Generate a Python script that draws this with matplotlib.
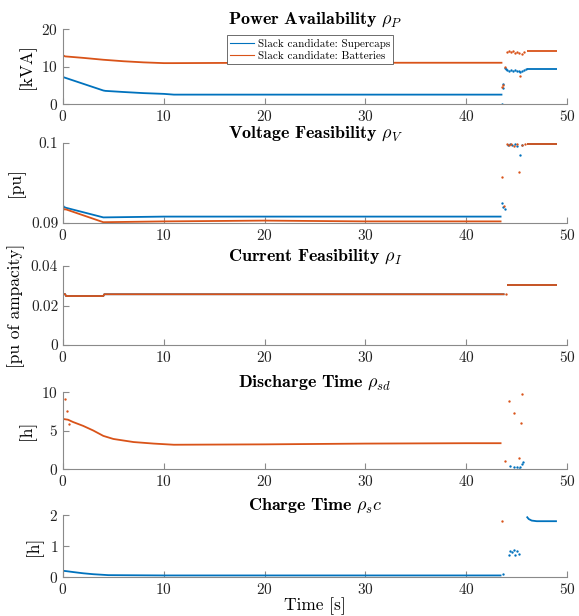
import numpy as np
import matplotlib
matplotlib.use("Agg")
import matplotlib.pyplot as plt

# MATLAB default line colours
C_SC = "#0072BD"   # supercaps
C_BAT = "#D95319"  # batteries

# ---------------- Power availability [kVA] ----------------
p_sc_t = [0, 0.1, 4.0, 4.2, 6, 8, 10, 11, 15, 20, 30, 40, 43.5]
p_sc = [7.2, 7.1, 3.6, 3.5, 3.2, 2.9, 2.7, 2.5, 2.5, 2.5, 2.5, 2.5, 2.5]
p_sc_tr_t = [43.6, 43.65, 43.7, 43.8, 43.9, 44.0, 44.2, 44.4, 44.6, 44.8, 45.0, 45.2, 45.3, 45.5, 45.7, 45.9]
p_sc_tr = [0.1, 4.2, 5.3, 9.7, 9.3, 9.0, 8.9, 9.1, 8.9, 9.0, 8.8, 8.9, 8.6, 8.8, 9.2, 9.4]
p_sc_end_t = [46.0, 49.0]
p_sc_end = [9.4, 9.4]

p_bat_t = [0, 0.2, 2, 4, 6, 8, 10, 11, 20, 30, 43.5]
p_bat = [13.0, 12.7, 12.3, 11.8, 11.4, 11.1, 10.9, 10.9, 11.0, 11.0, 11.0]
p_bat_tr_t = [43.6, 43.7, 43.85, 44.0, 44.2, 44.4, 44.6, 44.8, 45.0, 45.2, 45.3, 45.5, 45.7]
p_bat_tr = [4.5, 5.0, 10.0, 14.0, 14.2, 13.8, 14.1, 13.6, 14.0, 13.5, 7.6, 13.3, 13.8]
p_bat_end_t = [46.0, 49.0]
p_bat_end = [14.2, 14.2]

# ---------------- Voltage feasibility [pu] ----------------
v_sc_t = [0, 0.1, 0.3, 4.0, 10, 20, 30, 43.5]
v_sc = [0.0922, 0.0920, 0.0919, 0.0907, 0.0908, 0.0908, 0.0908, 0.0908]
v_sc_tr_t = [43.6, 43.7, 43.8, 44.1, 44.3, 44.5, 44.8, 45.0, 45.3, 45.5]
v_sc_tr = [0.0925, 0.0920, 0.0918, 0.0998, 0.0999, 0.0997, 0.0999, 0.0996, 0.0985, 0.0998]
v_bat_t = [0, 0.1, 0.3, 4.0, 10, 20, 30, 43.5]
v_bat = [0.0920, 0.0917, 0.0917, 0.0901, 0.0902, 0.0903, 0.0902, 0.0902]
v_bat_tr_t = [43.6, 43.75, 44.0, 44.2, 44.4, 44.7, 45.0, 45.2, 45.5, 45.8]
v_bat_tr = [0.0957, 0.0921, 0.0999, 0.0998, 0.0999, 0.0996, 0.0999, 0.0964, 0.0997, 0.0999]
v_end_t = [46.0, 49.0]
v_end = [0.0999, 0.0999]

# ---------------- Current feasibility [pu of ampacity] ----------------
i_t = [0, 0.2, 0.3, 4.0, 4.1, 43.8]
i_val = [0.0258, 0.0258, 0.0248, 0.0248, 0.0257, 0.0257]
i_tr_t = [43.9]
i_tr = [0.0260]
i_end_t = [44.0, 49.0]
i_end = [0.0302, 0.0302]

# ---------------- Discharge time [h] ----------------
d_bat_t = [0, 0.5, 1, 2, 3, 4, 5, 7, 9, 11, 20, 30, 40, 43.5]
d_bat = [6.5, 6.4, 6.1, 5.6, 5.0, 4.3, 3.9, 3.5, 3.3, 3.15, 3.2, 3.3, 3.35, 3.35]
d_bat_tr_t = [0.2, 0.35, 0.55, 43.8, 44.25, 44.75, 45.25, 45.45, 45.55]
d_bat_tr = [9.1, 7.5, 5.9, 1.0, 8.85, 7.3, 1.4, 6.0, 9.7]
d_sc_tr_t = [44.3, 44.7, 45.0, 45.2, 45.35, 45.5, 45.6]
d_sc_tr = [0.35, 0.2, 0.25, 0.05, 0.3, 0.6, 0.85]

# ---------------- Charge time [h] ----------------
c_sc_t = [0, 0.3, 1, 2, 3, 4.5, 10, 20, 43.5]
c_sc = [0.2, 0.19, 0.16, 0.12, 0.09, 0.06, 0.05, 0.05, 0.05]
c_sc_tr_t = [43.7, 44.2, 44.3, 44.5, 44.7, 44.8, 45.0, 45.2]
c_sc_tr = [0.1, 0.7, 0.85, 0.8, 0.88, 0.72, 0.85, 0.75]
c_bat_tr_t = [43.6]
c_bat_tr = [1.82]
c_sc_end_t = [46.0, 46.2, 46.5, 47.0, 49.0]
c_sc_end = [1.95, 1.87, 1.82, 1.80, 1.80]

# ---------------- style ----------------
plt.rcParams['font.family'] = 'serif'
plt.rcParams['font.serif'] = ['cmr10', 'DejaVu Serif']
plt.rcParams['mathtext.fontset'] = 'cm'
plt.rcParams['axes.formatter.use_mathtext'] = True
plt.rcParams['axes.unicode_minus'] = False

TICK_FS = 11
LAB_FS = 12.5
TITLE_FS = 13
AX_COL = '#8a8a8a'

fig = plt.figure(figsize=(5.79, 6.16), dpi=100)

L, W = 63/579, 504/579
def add_axes(top_px, bot_px):
    return fig.add_axes([L, 1 - bot_px/616, W, (bot_px - top_px)/616])

axs = [add_axes(29, 104), add_axes(143, 223), add_axes(266, 345),
       add_axes(392, 469), add_axes(515, 577)]

def style(ax, ylim, yticks, ylabel, title):
    ax.set_xlim(0, 50)
    ax.set_xticks(np.arange(0, 51, 10))
    ax.set_ylim(*ylim)
    ax.set_yticks(yticks)
    ax.set_ylabel(ylabel, fontsize=LAB_FS)
    ax.set_title(title, fontsize=TITLE_FS, pad=2)
    for s in ('top', 'right'):
        ax.spines[s].set_visible(False)
    for s in ('left', 'bottom'):
        ax.spines[s].set_color(AX_COL)
        ax.spines[s].set_linewidth(0.8)
    ax.tick_params(direction='in', length=4, width=0.8, color=AX_COL,
                   labelsize=TICK_FS, labelcolor='#222222')

LW = 1.3

def trace(ax, t, y, c):
    ax.plot(t, y, '-', color=c, lw=LW, solid_capstyle='butt')

def dots(ax, t, y, c):
    ax.plot(t, y, 'o', color=c, ms=1.7, mew=0, lw=0)

# Power availability
ax = axs[0]
h1, = ax.plot(p_sc_t, p_sc, '-', color=C_SC, lw=LW, label='Slack candidate: Supercaps')
h2, = ax.plot(p_bat_t, p_bat, '-', color=C_BAT, lw=LW, label='Slack candidate: Batteries')
dots(ax, p_sc_tr_t, p_sc_tr, C_SC)
trace(ax, p_sc_end_t, p_sc_end, C_SC)
dots(ax, p_bat_tr_t, p_bat_tr, C_BAT)
trace(ax, p_bat_end_t, p_bat_end, C_BAT)
style(ax, (0, 20), [0, 10, 20], '[kVA]', r'$\mathbf{Power\ Availability}\ \rho_P$')
leg = ax.legend(handles=[h1, h2], loc='upper center', bbox_to_anchor=(0.49, 0.99),
                fontsize=8, handlelength=2.2, handletextpad=0.3,
                borderpad=0.3, labelspacing=0.2, fancybox=False, framealpha=1)
leg.get_frame().set_edgecolor('#555555')
leg.get_frame().set_linewidth(0.6)
for ln in leg.get_lines():
    ln.set_linewidth(0.8)

# Voltage feasibility
ax = axs[1]
trace(ax, v_sc_t, v_sc, C_SC)
trace(ax, v_bat_t, v_bat, C_BAT)
dots(ax, v_sc_tr_t, v_sc_tr, C_SC)
dots(ax, v_bat_tr_t, v_bat_tr, C_BAT)
trace(ax, v_end_t, v_end, C_SC)
trace(ax, v_end_t, v_end, C_BAT)
style(ax, (0.09, 0.1), [0.09, 0.1], '[pu]', r'$\mathbf{Voltage\ Feasibility}\ \rho_V$')
ax.set_yticklabels(['0.09', '0.1'])

# Current feasibility (both candidates coincide)
ax = axs[2]
trace(ax, i_t, i_val, C_SC)
trace(ax, i_t, i_val, C_BAT)
dots(ax, i_tr_t, i_tr, C_BAT)
trace(ax, i_end_t, i_end, C_SC)
trace(ax, i_end_t, i_end, C_BAT)
style(ax, (0, 0.04), [0, 0.02, 0.04], '[pu of ampacity]', r'$\mathbf{Current\ Feasibility}\ \rho_I$')
ax.set_yticklabels(['0', '0.02', '0.04'])

# Discharge time
ax = axs[3]
trace(ax, d_bat_t, d_bat, C_BAT)
dots(ax, d_bat_tr_t, d_bat_tr, C_BAT)
dots(ax, d_sc_tr_t, d_sc_tr, C_SC)
style(ax, (0, 10), [0, 5, 10], '[h]', r'$\mathbf{Discharge\ Time}\ \rho_{sd}$')

# Charge time
ax = axs[4]
trace(ax, c_sc_t, c_sc, C_SC)
dots(ax, c_sc_tr_t, c_sc_tr, C_SC)
dots(ax, c_bat_tr_t, c_bat_tr, C_BAT)
trace(ax, c_sc_end_t, c_sc_end, C_SC)
style(ax, (0, 2), [0, 1, 2], '[h]', r'$\mathbf{Charge\ Time}\ \rho_s c$')
ax.set_xlabel('Time [s]', fontsize=LAB_FS, labelpad=0)

fig.savefig('out.png', dpi=100)
